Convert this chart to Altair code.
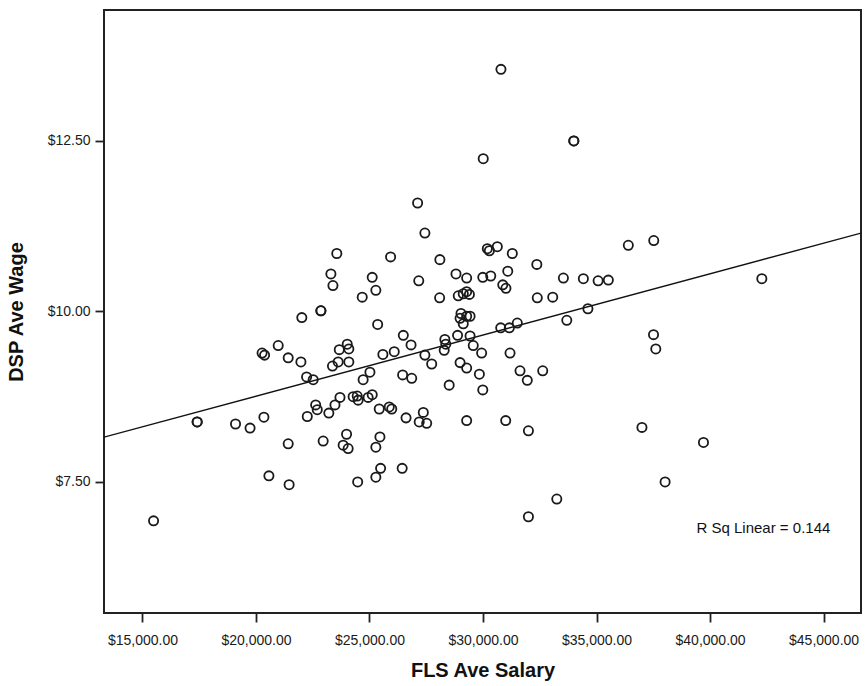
import altair as alt
import pandas as pd

# FLS average salary (x) and DSP average wage (y)
fls_salary = [
    22020, 20980, 20270, 20380, 21420, 21980, 22230, 17410, 17410, 19100,
    19740, 20350, 22260, 21420, 20570, 21460, 15490, 27120, 27440, 23560,
    25930, 28100, 28810, 29280, 23300, 23390, 25120, 25280, 24680, 27170,
    28090, 28910, 29130, 29280, 22860, 22860, 25360, 29030, 29280, 28990,
    29130, 26490, 26830, 28880, 28320, 28360, 28290, 24020, 24090, 23670,
    25590, 26090, 27440, 22520, 23370, 23620, 24090, 27740, 28990, 29280,
    28510, 25020, 24720, 26460, 26860, 23700, 23480, 23210, 22630, 22700,
    24280, 24460, 24500, 24940, 25120, 25430, 25870, 25980, 26610, 27370,
    27190, 27520, 29280, 22960, 23990, 23840, 24060, 25460, 25280, 25490,
    25280, 26440, 24480, 30790, 34000, 34000, 30010, 36400, 37520, 30190,
    30280, 30630, 31290, 32370, 31090, 29990, 30340, 33540, 34420, 35070,
    35520, 42280, 30870, 31010, 29400, 32390, 33070, 29430, 29430, 29570,
    29940, 31190, 30780, 31160, 31510, 33690, 34620, 37510, 37610, 29840,
    29990, 31630, 31950, 32630, 31000, 32000, 37000, 39710, 38020, 33250,
    32000,
]
dsp_wage = [
    9.91, 9.50, 9.39, 9.36, 9.32, 9.26, 9.04, 8.38, 8.38, 8.35,
    8.29, 8.45, 8.46, 8.06, 7.59, 7.46, 6.93, 11.59, 11.15, 10.85,
    10.80, 10.76, 10.55, 10.49, 10.55, 10.38, 10.50, 10.31, 10.21, 10.45,
    10.20, 10.23, 10.26, 10.29, 10.01, 10.01, 9.81, 9.97, 9.93, 9.90,
    9.82, 9.65, 9.51, 9.65, 9.59, 9.52, 9.43, 9.52, 9.45, 9.44,
    9.37, 9.41, 9.36, 9.00, 9.20, 9.26, 9.26, 9.23, 9.25, 9.17,
    8.92, 9.11, 9.00, 9.07, 9.02, 8.74, 8.63, 8.51, 8.63, 8.56,
    8.75, 8.76, 8.70, 8.74, 8.78, 8.57, 8.60, 8.57, 8.44, 8.52,
    8.38, 8.36, 8.40, 8.10, 8.20, 8.04, 7.99, 8.16, 8.01, 7.70,
    7.57, 7.70, 7.50, 13.55, 12.50, 12.50, 12.24, 10.97, 11.04, 10.92,
    10.89, 10.95, 10.85, 10.69, 10.59, 10.50, 10.52, 10.49, 10.48, 10.45,
    10.46, 10.48, 10.39, 10.34, 10.25, 10.20, 10.21, 9.93, 9.64, 9.50,
    9.39, 9.39, 9.76, 9.76, 9.83, 9.87, 10.04, 9.66, 9.45, 9.08,
    8.85, 9.13, 8.99, 9.13, 8.40, 8.25, 8.30, 8.08, 7.50, 7.25,
    6.99,
]

x_ticks = [15000, 20000, 25000, 30000, 35000, 40000, 45000]
y_ticks = [7.5, 10.0, 12.5]
x_domain = [13307, 46648]
y_domain = [5.579, 14.42]

r2_label = ["R Sq Linear = 0.144"]
r2_pos_x = [42350]
r2_pos_y = [6.83]

FONT = "Liberation Sans"

df = pd.DataFrame({"salary": fls_salary, "wage": dsp_wage})
ann = pd.DataFrame({"label": r2_label, "x": r2_pos_x, "y": r2_pos_y})

x_enc = alt.X(
    "salary:Q",
    scale=alt.Scale(domain=x_domain, nice=False, zero=False),
    axis=alt.Axis(
        title="FLS Ave Salary",
        values=x_ticks,
        format="$,.2f",
        grid=False,
        tickSize=9,
        labelPadding=11,
        titlePadding=13,
        labelFontSize=14,
        titleFontSize=20,
        titleFontWeight="bold",
        labelColor="#1a1a1a",
        titleColor="#111111",
        domain=False,
        tickColor="#222222",
        tickWidth=1.8,
        labelFont=FONT,
        titleFont=FONT,
    ),
)
y_enc = alt.Y(
    "wage:Q",
    scale=alt.Scale(domain=y_domain, nice=False, zero=False),
    axis=alt.Axis(
        title="DSP Ave Wage",
        values=y_ticks,
        format="$.2f",
        grid=False,
        tickSize=9,
        labelPadding=5,
        titlePadding=21,
        labelFontSize=14,
        titleFontSize=20,
        titleFontWeight="bold",
        labelColor="#1a1a1a",
        titleColor="#111111",
        domain=False,
        tickColor="#222222",
        tickWidth=1.8,
        labelFont=FONT,
        titleFont=FONT,
    ),
)

points = alt.Chart(df).mark_point(
    shape="circle", filled=False, size=85, strokeWidth=1.8, color="#1a1a1a", opacity=1
).encode(x=x_enc, y=y_enc)

fit = alt.Chart(df).transform_regression(
    "salary", "wage", extent=x_domain
).mark_line(color="#111111", strokeWidth=1.4, clip=True).encode(
    x=alt.X("salary:Q"), y=alt.Y("wage:Q")
)

text = alt.Chart(ann).mark_text(
    font=FONT, fontSize=15, color="#111111", align="center", baseline="middle"
).encode(x=alt.X("x:Q"), y=alt.Y("y:Q"), text="label:N")

chart = (
    alt.layer(fit, points, text)
    .properties(
        width=757,
        height=603,
        background="white",
        autosize=alt.AutoSizeParams(type="none"),
        padding={"left": 104, "top": 10, "right": 4, "bottom": 73},
    )
    .configure_view(stroke="#222222", strokeWidth=2)
)

chart.save("out.html", embed_options={"renderer": "svg", "actions": False})
